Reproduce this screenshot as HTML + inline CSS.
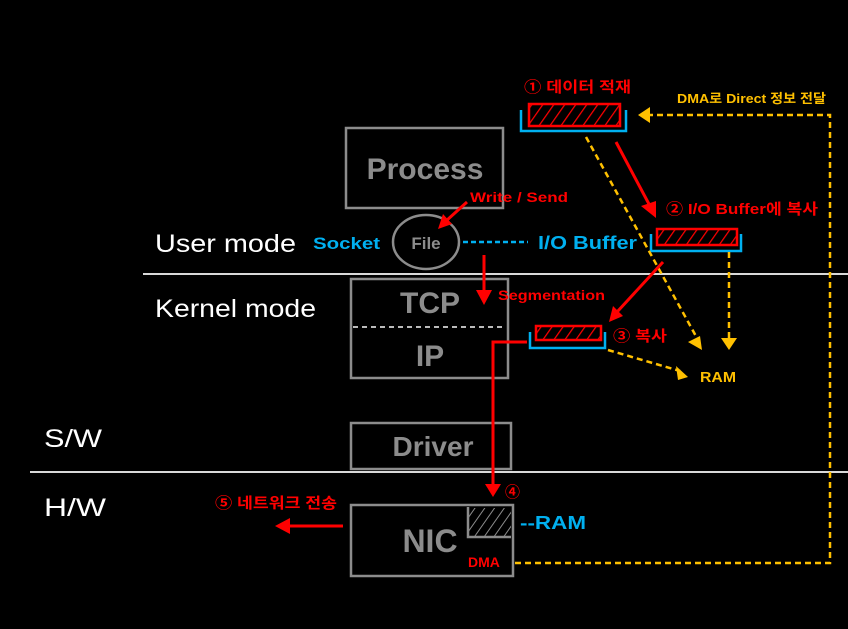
<!DOCTYPE html>
<html><head><meta charset="utf-8"><style>html,body{margin:0;padding:0;background:#000;}svg{display:block}</style></head><body>
<svg width="848" height="629" viewBox="0 0 848 629" xmlns="http://www.w3.org/2000/svg" font-family="'Liberation Sans','Noto Sans CJK KR',sans-serif" font-weight="bold">
<defs>
<pattern id="h" width="9" height="9" patternUnits="userSpaceOnUse" patternTransform="rotate(35)"><rect width="9" height="9" fill="#000"/><line x1="0" y1="0" x2="0" y2="9" stroke="#ff0000" stroke-width="2.5"/></pattern>
<pattern id="g" width="8" height="8" patternUnits="userSpaceOnUse" patternTransform="rotate(35)"><line x1="0" y1="0" x2="0" y2="8" stroke="#8c8c8c" stroke-width="2"/></pattern>
</defs>
<rect width="848" height="629" fill="#000"/>
<line x1="143" y1="274" x2="848" y2="274" stroke="#d9d9d9" stroke-width="2"/>
<line x1="30" y1="472" x2="848" y2="472" stroke="#d9d9d9" stroke-width="2"/>
<g fill="#fff" font-weight="normal" font-size="25">
<text x="155" y="252" textLength="141" lengthAdjust="spacingAndGlyphs">User mode</text><text x="155" y="317" textLength="161" lengthAdjust="spacingAndGlyphs">Kernel mode</text>
<text x="44" y="447" textLength="58" lengthAdjust="spacingAndGlyphs">S/W</text><text x="44" y="516" textLength="62" lengthAdjust="spacingAndGlyphs">H/W</text></g>
<g fill="none" stroke="#8c8c8c" stroke-width="2.5">
<rect x="346" y="128" width="157" height="80"/>
<ellipse cx="426" cy="242" rx="33" ry="27"/>
<rect x="351" y="279" width="157" height="99"/>
<rect x="351" y="423" width="160" height="46"/>
<rect x="351" y="505" width="162" height="71"/>
<polyline points="468,507 468,537 511,537"/>
</g>
<rect x="469" y="508" width="42" height="28" fill="url(#g)"/>
<line x1="353" y1="327" x2="506" y2="327" stroke="#bbb" stroke-width="2" stroke-dasharray="5,4"/>
<g fill="#8c8c8c" text-anchor="middle">
<text x="425" y="179" font-size="30">Process</text>
<text x="426" y="249" font-size="17">File</text>
<text x="430" y="313" font-size="30">TCP</text>
<text x="430" y="366" font-size="30">IP</text>
<text x="433" y="456" font-size="28">Driver</text>
<text x="430" y="552" font-size="32">NIC</text>
</g>
<g fill="#00b0f0"><text x="313" y="249" font-size="17" textLength="67" lengthAdjust="spacingAndGlyphs">Socket</text><text x="538" y="249" font-size="18" textLength="99" lengthAdjust="spacingAndGlyphs">I/O Buffer</text><text x="520" y="529" font-size="18" textLength="66" lengthAdjust="spacingAndGlyphs">--RAM</text></g>
<line x1="463" y1="242" x2="528" y2="242" stroke="#00b0f0" stroke-width="2.5" stroke-dasharray="5,3"/>
<g stroke="#00b0f0" stroke-width="2.5" fill="none">
<polyline points="521,110 521,131 626,131 626,110"/>
<polyline points="651,234 651,251 741,251 741,234"/>
<polyline points="530,332 530,348 605,348 605,332"/>
</g>
<g stroke="#ff0000" stroke-width="2.5">
<rect x="529" y="104" width="91" height="22" fill="url(#h)"/>
<rect x="657" y="229" width="80" height="16" fill="url(#h)"/>
<rect x="536" y="326" width="65" height="14" fill="url(#h)"/>
</g>
<g stroke="#ffc000" stroke-width="2.5" stroke-dasharray="6,4" fill="none">
<line x1="586" y1="137" x2="697" y2="338"/>
<line x1="729" y1="252" x2="729" y2="338"/>
<line x1="608" y1="350" x2="680" y2="371"/>
<polyline points="515,563 830,563 830,115 650,115"/>
</g>
<g fill="#ffc000">
<polygon points="702,350 688,342 700,336"/>
<polygon points="729,350 721,338 737,338"/>
<polygon points="688,377 676,366 678,380"/>
<polygon points="638,115 650,107 650,123"/>
<text x="677" y="103" font-size="13" textLength="149" lengthAdjust="spacingAndGlyphs">DMA로 Direct 정보 전달</text>
<text x="700" y="382" font-size="15" textLength="36" lengthAdjust="spacingAndGlyphs">RAM</text>
</g>
<g stroke="#ff0000" stroke-width="3" fill="none">
<line x1="616" y1="142" x2="650" y2="206"/>
<line x1="663" y1="262" x2="617" y2="312"/>
<line x1="467" y1="202" x2="446" y2="221"/>
<line x1="484" y1="255" x2="484" y2="292"/>
<polyline points="527,342 493,342 493,487"/>
<line x1="343" y1="526" x2="288" y2="526"/>
</g>
<g fill="#ff0000">
<polygon points="656,218 641,206 656,201"/>
<polygon points="609,322 613,306 623,316"/>
<polygon points="438,229 443,214 452,224"/>
<polygon points="484,305 476,290 492,290"/>
<polygon points="493,497 485,484 501,484"/>
<polygon points="275,526 290,518 290,534"/>
<text x="524" y="92" font-size="15" textLength="107" lengthAdjust="spacingAndGlyphs">① 데이터 적재</text>
<text x="666" y="214" font-size="15" textLength="152" lengthAdjust="spacingAndGlyphs">② I/O Buffer에 복사</text>
<text x="613" y="341" font-size="15" textLength="54" lengthAdjust="spacingAndGlyphs">③ 복사</text>
<text x="505" y="497" font-size="15">④</text>
<text x="215" y="508" font-size="15" textLength="122" lengthAdjust="spacingAndGlyphs">⑤ 네트워크 전송</text>
<text x="470" y="202" font-size="14" textLength="98" lengthAdjust="spacingAndGlyphs">Write / Send</text>
<text x="498" y="300" font-size="14" textLength="107" lengthAdjust="spacingAndGlyphs">Segmentation</text>
<text x="468" y="567" font-size="14">DMA</text>
</g>
</svg>
</body></html>
